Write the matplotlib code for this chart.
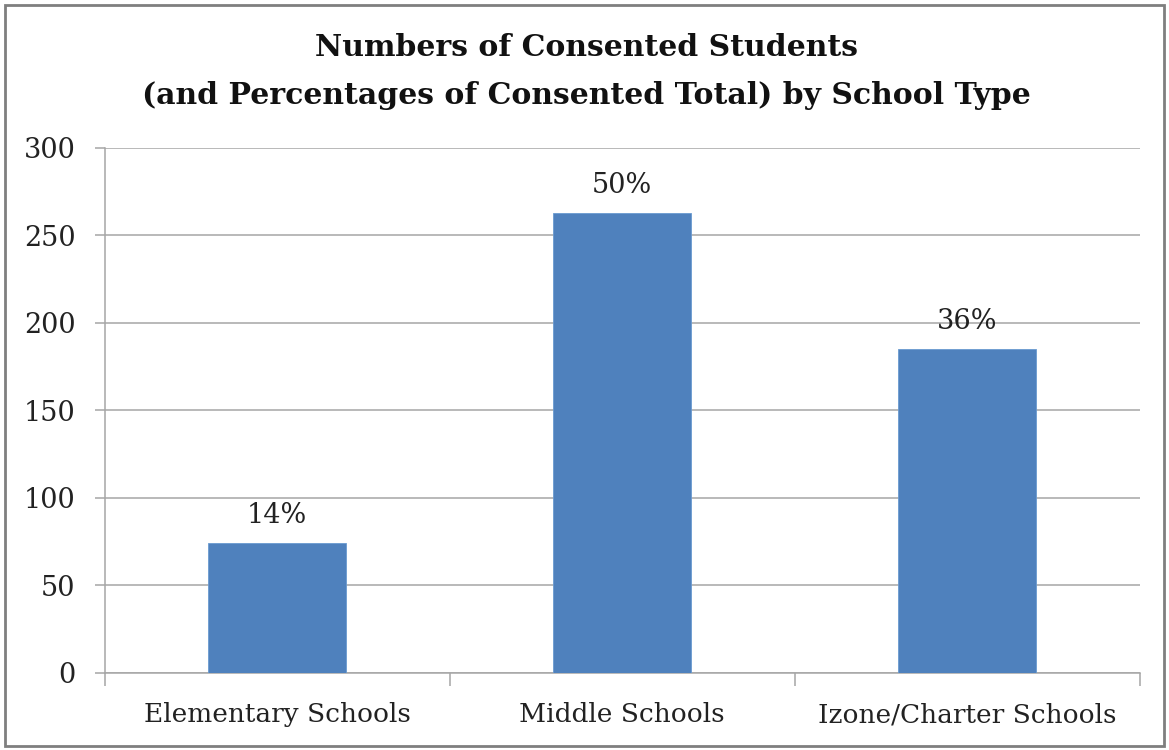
import matplotlib
matplotlib.use("Agg")
import matplotlib.pyplot as plt
from matplotlib.patches import Rectangle

categories = ["Elementary Schools", "Middle Schools", "Izone/Charter Schools"]
counts = [74, 263, 185]
pct_labels = ["14%", "50%", "36%"]
yticks = [0, 50, 100, 150, 200, 250, 300]

SERIF = "DejaVu Serif"
BAR = "#4F81BD"
GRID = "#A6A6A6"

fig = plt.figure(figsize=(11.69, 7.5), dpi=100)
ax = fig.add_axes([0.0894, 0.1027, 0.9752 - 0.0894, 0.8027 - 0.1027])

x = list(range(len(categories)))
bars = ax.bar(x, counts, width=0.4, color=BAR, edgecolor="#6A9AD0", linewidth=0.6, zorder=3)
for xi, v, lab in zip(x, counts, pct_labels):
    ax.text(xi, v + 8, lab, ha="center", va="bottom", fontsize=19.5,
            family=SERIF, color="#222222", zorder=4)

ax.set_xlim(-0.5, len(categories) - 0.5)
ax.set_ylim(0, 300)
ax.set_yticks(yticks)
ax.set_yticklabels([str(t) for t in yticks], family=SERIF, fontsize=19.5, color="#222222")
ax.yaxis.grid(True, color=GRID, linewidth=1.1, zorder=0)
ax.tick_params(axis="y", length=7, width=1.1, color=GRID, pad=14)

ax.set_xticks(x)
ax.set_xticklabels(categories, family=SERIF, fontsize=19, color="#222222")
ax.tick_params(axis="x", length=0, pad=21)
ax.set_xticks([i - 0.5 for i in range(len(categories) + 1)], minor=True)
ax.tick_params(axis="x", which="minor", length=9, width=1.1, color=GRID)

for s in ["top", "right"]:
    ax.spines[s].set_visible(False)
for s in ["left", "bottom"]:
    ax.spines[s].set_color(GRID)
    ax.spines[s].set_linewidth(1.1)

fig.text(0.502, 0.936, "Numbers of Consented Students", ha="center", va="center",
         fontsize=21.5, fontweight="bold", family=SERIF, color="#111111")
fig.text(0.502, 0.873, "(and Percentages of Consented Total) by School Type", ha="center",
         va="center", fontsize=21.5, fontweight="bold", family=SERIF, color="#111111")

fig.patches.append(Rectangle((0.004, 0.006), 0.992, 0.988, transform=fig.transFigure,
                             fill=False, edgecolor="#7F7F7F", linewidth=2.0))

fig.savefig("out.png", dpi=100, facecolor="white")
